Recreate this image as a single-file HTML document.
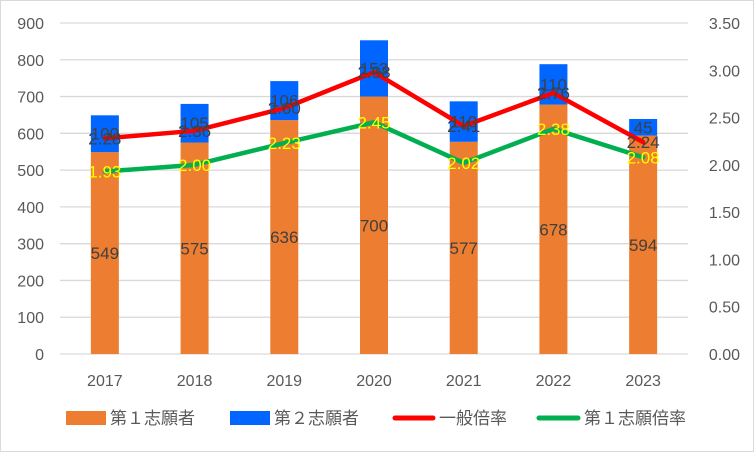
<!DOCTYPE html>
<html><head><meta charset="utf-8">
<style>
body{margin:0;background:#fff;}
svg text{font-family:"Liberation Sans","Noto Sans CJK JP",sans-serif;}
</style></head>
<body>
<svg id="chart" width="754" height="452" xmlns="http://www.w3.org/2000/svg">
<rect x="0.5" y="0.5" width="753" height="451" fill="#fff" stroke="#d9d9d9"/>
<g id="grid"></g><g id="bars"></g><g id="lines"></g><g id="labels"></g><g id="axes"></g>
<g id="legend">
<rect x="66" y="411" width="40" height="14" fill="#ed7d31"/>
<text x="110" y="424" font-size="17" fill="#595959">第１志願者</text>
<rect x="230" y="411" width="40" height="14" fill="#0066ff"/>
<text x="274" y="424" font-size="17" fill="#595959">第２志願者</text>
<line x1="395" y1="418" x2="433" y2="418" stroke="#ff0000" stroke-width="5" stroke-linecap="round"/>
<text x="439" y="424" font-size="17" fill="#595959">一般倍率</text>
<line x1="539" y1="418" x2="578" y2="418" stroke="#00b050" stroke-width="5" stroke-linecap="round"/>
<text x="584" y="424" font-size="17" fill="#595959">第１志願倍率</text>
</g>
</svg>
<script>
const categories=["2017","2018","2019","2020","2021","2022","2023"];
const firstChoice=[549,575,636,700,577,678,594];
const secondChoice=[100,105,106,153,110,110,45];
const generalRate=[2.28,2.36,2.60,2.98,2.41,2.76,2.24];
const firstRate=[1.93,2.00,2.23,2.45,2.02,2.38,2.08];
const leftTicks=[0,100,200,300,400,500,600,700,800,900];
const rightTicks=["0.00","0.50","1.00","1.50","2.00","2.50","3.00","3.50"];

const NS="http://www.w3.org/2000/svg";
const L=60,R=688,T=23,B=354;
const yL=v=>B-(v/900)*(B-T);
const yR=v=>B-(v/3.5)*(B-T);
const step=(R-L)/categories.length;
const xC=i=>L+step*(i+0.5);
function mk(tag,attrs,parent,txt){const e=document.createElementNS(NS,tag);for(const k in attrs)e.setAttribute(k,attrs[k]);if(txt!==undefined)e.textContent=txt;document.getElementById(parent).appendChild(e);return e;}

leftTicks.forEach(v=>{
  const g=mk('line',{x1:L,x2:R,y1:yL(v),y2:yL(v),stroke:'#d9d9d9','stroke-width':1.3},'grid');
  
  
  const t=mk('text',{x:44,y:yL(v)+6,'text-anchor':'end','font-size':16,fill:'#595959'},'axes',String(v));
  
  
});
rightTicks.forEach(s=>{
  const t=mk('text',{x:740,y:yR(parseFloat(s))+6,'text-anchor':'end','font-size':16,fill:'#595959'},'axes',s);
  
  
});
categories.forEach((c,i)=>{
  const t=mk('text',{x:xC(i),y:386,'text-anchor':'middle','font-size':16,fill:'#595959'},'axes',c);
  
  
  const w=28,x=xC(i)-w/2;
  const b1=mk('rect',{x:x,y:yL(firstChoice[i]),width:w,height:B-yL(firstChoice[i]),fill:'#ed7d31'},'bars');
  
  
  const top=firstChoice[i]+secondChoice[i];
  const b2=mk('rect',{x:x,y:yL(top),width:w,height:yL(firstChoice[i])-yL(top),fill:'#0066ff'},'bars');
  
  
  const l1=mk('text',{x:xC(i),y:(yL(firstChoice[i])+B)/2+6,'text-anchor':'middle','font-size':17,fill:'#404040'},'labels',String(firstChoice[i]));
  
  
  const l2=mk('text',{x:xC(i),y:(yL(firstChoice[i])+yL(top))/2+6,'text-anchor':'middle','font-size':17,fill:'#404040'},'labels',String(secondChoice[i]));
  
  
});
function line(vals,color,name,labColor){
  const d=vals.map((v,i)=>(i?'L':'M')+xC(i)+','+yR(v)).join(' ');
  const p=mk('path',{d:d,fill:'none',stroke:color,'stroke-width':4.5,'stroke-linejoin':'round','stroke-linecap':'round'},'lines');
  
  
  vals.forEach((v,i)=>{
    const t=mk('text',{x:xC(i),y:yR(v)+6,'text-anchor':'middle','font-size':17,fill:labColor},'labels',v.toFixed(2));
    
    
  });
}
line(generalRate,'#ff0000','general-rate-line','#404040');
line(firstRate,'#00b050','first-rate-line','#ffff00');
</script>
</body></html>
